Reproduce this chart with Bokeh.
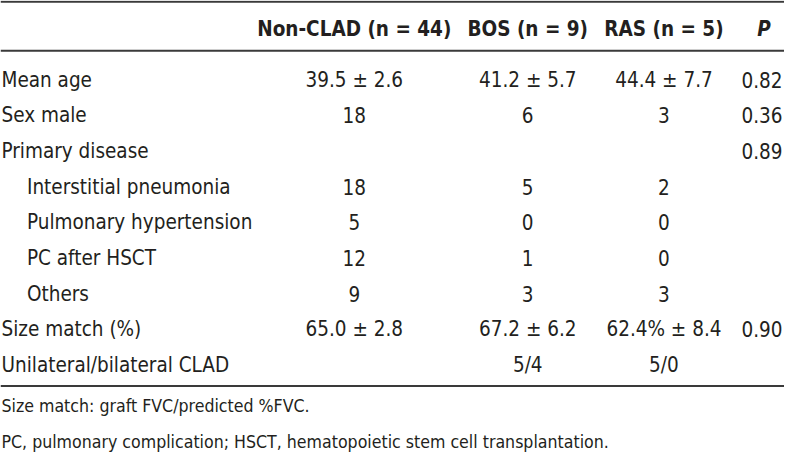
from bokeh.plotting import figure
from bokeh.models import ColumnDataSource, Range1d
from bokeh.core.properties import value
from bokeh.embed import file_html
from bokeh.resources import INLINE

# ---- data ----
headers = ["Non-CLAD (n = 44)", "BOS (n = 9)", "RAS (n = 5)", "P"]
row_labels = ["Mean age", "Sex male", "Primary disease", "Interstitial pneumonia",
              "Pulmonary hypertension", "PC after HSCT", "Others", "Size match (%)",
              "Unilateral/bilateral CLAD"]
row_level = [0, 0, 0, 1, 1, 1, 1, 0, 0]
non_clad = ["39.5 ± 2.6", "18", "", "18", "5", "12", "9", "65.0 ± 2.8", ""]
bos = ["41.2 ± 5.7", "6", "", "5", "0", "1", "3", "67.2 ± 6.2", "5/4"]
ras = ["44.4 ± 7.7", "3", "", "2", "0", "0", "3", "62.4% ± 8.4", "5/0"]
p_values = ["0.82", "0.36", "0.89", "", "", "", "", "0.90", ""]
footnotes = ["Size match: graft FVC/predicted %FVC.",
             "PC, pulmonary complication; HSCT, hematopoietic stem cell transplantation."]

# ---- layout ----
W, H = 800, 471
FONT = "DejaVu Sans Condensed"
TXT = "#231f20"
LINE = "#3a3a3a"
FS = "20.5px"

p = figure(width=784, height=455, output_backend="svg", toolbar_location=None,
           x_range=Range1d(0, W), y_range=Range1d(H, 0), min_border=0,
           outline_line_color=None, background_fill_color="white")
p.axis.visible = False
p.grid.visible = False

row_y0, row_h = 82, 36.9
ys = [row_y0 + i * row_h for i in range(len(row_labels))]
xs = [1 + 26 * lv for lv in row_level]

col_x = [361, 538, 677]
p_x = 798

# header
hdr_y = 30
p.text(x=col_x, y=[hdr_y] * 3, text=headers[:3], text_font=value(FONT),
       text_font_size=FS, text_font_style="bold", text_align="center",
       text_baseline="middle", text_color=TXT)
p.text(x=[779], y=[hdr_y], text=headers[3:], text_font=value(FONT),
       text_font_size=FS, text_font_style="bold italic", text_align="center",
       text_baseline="middle", text_color=TXT)

# rules
p.segment(x0=[0, 0, 0], x1=[W, W, W], y0=[1.2, 52, 399], y1=[1.2, 52, 399],
          line_color=LINE, line_width=2)

# row labels
src = ColumnDataSource(dict(x=xs, y=ys, t=row_labels))
p.text(x="x", y="y", text="t", source=src, text_font=value(FONT), text_font_size=FS,
       text_align="left", text_baseline="middle", text_color=TXT)

for cx, col in zip(col_x, [non_clad, bos, ras]):
    p.text(x=[cx] * len(col), y=ys, text=col, text_font=value(FONT), text_font_size=FS,
           text_align="center", text_baseline="middle", text_color=TXT)

p.text(x=[p_x] * len(p_values), y=ys, text=p_values, text_font=value(FONT),
       text_font_size=FS, text_align="right", text_baseline="middle", text_color=TXT)

# footnotes
p.text(x=[1, 1], y=[420, 457], text=footnotes, text_font=value(FONT),
       text_font_size="17.6px", text_align="left", text_baseline="middle", text_color=TXT)

open("out.html", "w").write(file_html(p, INLINE))
